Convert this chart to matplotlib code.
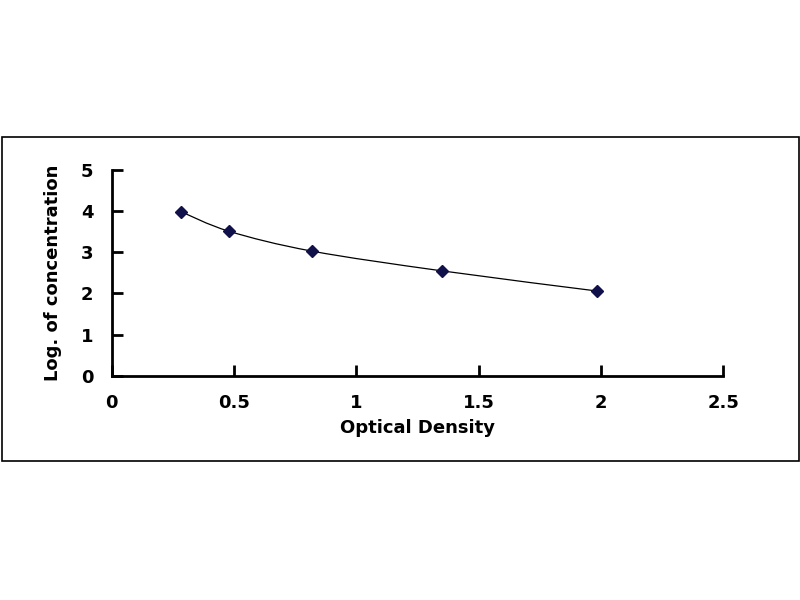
import matplotlib
matplotlib.use('Agg')
import matplotlib.pyplot as plt
from matplotlib.patches import Rectangle, PathPatch
from matplotlib.path import Path

# standard curve points
optical_density = [0.283, 0.481, 0.818, 1.349, 1.983]
log_concentration = [3.99, 3.51, 3.03, 2.55, 2.06]

x_ticks = [0, 0.5, 1, 1.5, 2, 2.5]
x_tick_labels = ['0', '0.5', '1', '1.5', '2', '2.5']
y_ticks = [0, 1, 2, 3, 4, 5]

plt.rcParams['font.family'] = ['DejaVu Sans']
plt.rcParams['font.weight'] = 'bold'

fig = plt.figure(figsize=(8, 6), dpi=100)
fig.patches.append(Rectangle((0.003, 0.2317), 0.996, 0.54, transform=fig.transFigure,
                             fill=False, edgecolor='black', linewidth=1.2))

ax = fig.add_axes([0.1394, 0.3738, 0.7647, 0.3428])


def smooth_path(xs, ys, t=1.0 / 6):
    # Catmull-Rom style bezier through the points (like a spreadsheet smoothed line)
    verts = [(xs[0], ys[0])]
    codes = [Path.MOVETO]
    n = len(xs)
    for i in range(n - 1):
        x0, y0 = (xs[i - 1], ys[i - 1]) if i > 0 else (xs[i], ys[i])
        x1, y1 = xs[i], ys[i]
        x2, y2 = xs[i + 1], ys[i + 1]
        x3, y3 = (xs[i + 2], ys[i + 2]) if i + 2 < n else (x2, y2)
        c1 = (x1 + (x2 - x0) * t, y1 + (y2 - y0) * t)
        c2 = (x2 - (x3 - x1) * t, y2 - (y3 - y1) * t)
        verts += [c1, c2, (x2, y2)]
        codes += [Path.CURVE4] * 3
    return Path(verts, codes)


ax.add_patch(PathPatch(smooth_path(optical_density, log_concentration),
                       facecolor='none', edgecolor='black', linewidth=0.9))
ax.plot(optical_density, log_concentration, linestyle='none', marker='D',
        markersize=6, color='#10104a')

ax.set_xlim(0, 2.5)
ax.set_ylim(0, 5)
ax.set_xticks(x_ticks)
ax.set_xticklabels(x_tick_labels)
ax.set_yticks(y_ticks)

for side in ['top', 'right']:
    ax.spines[side].set_visible(False)
for side in ['left', 'bottom']:
    ax.spines[side].set_linewidth(2)
    ax.spines[side].set_color('black')

ax.tick_params(axis='both', direction='in', length=8, width=2, labelsize=13)
ax.tick_params(axis='x', pad=13)
ax.tick_params(axis='y', pad=13)
for lbl in ax.get_xticklabels() + ax.get_yticklabels():
    lbl.set_fontweight('bold')

ax.set_xlabel('Optical Density', fontsize=13, fontweight='bold', labelpad=5)
ax.set_ylabel('Log. of concentration', fontsize=13, fontweight='bold', labelpad=14)

fig.savefig('out.png', dpi=100)
